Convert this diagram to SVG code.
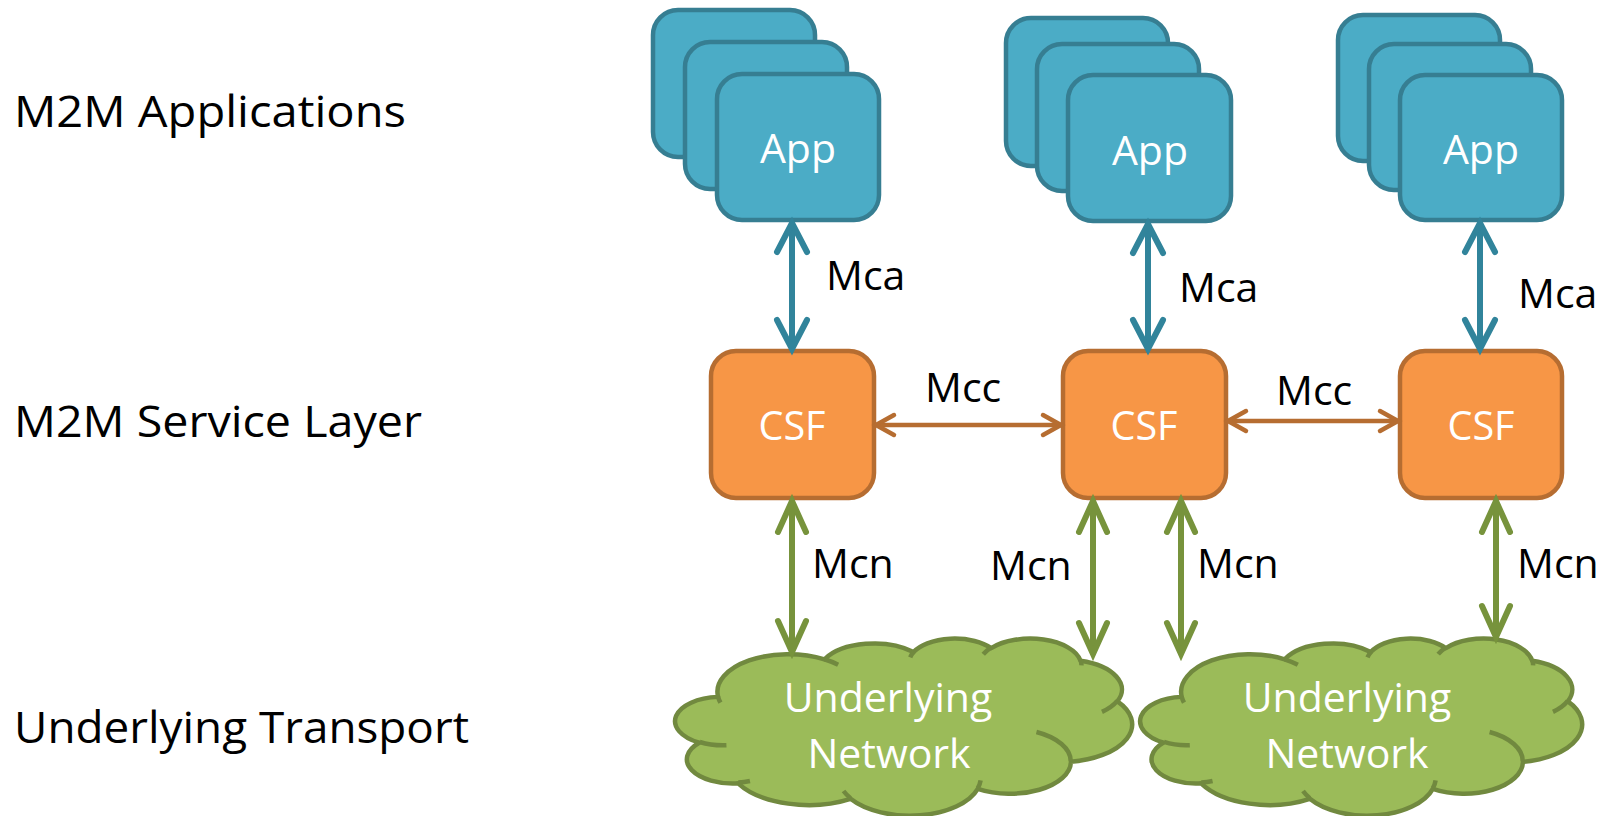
<svg xmlns="http://www.w3.org/2000/svg" width="1603" height="816" viewBox="0 0 1603 816">
<style>
  .lbl { font-family: "Open Sans", "Liberation Sans", sans-serif; font-size: 41px; fill: #000000; }
  .big { font-family: "Open Sans", "Liberation Sans", sans-serif; font-size: 43px; fill: #000000; }
  .wt { font-family: "Open Sans", "Liberation Sans", sans-serif; font-size: 41px; fill: #FFFFFF; text-anchor: middle; }
  .app { fill: #4BACC6; stroke: #367E92; stroke-width: 4.5; }
  .csf { fill: #F79646; stroke: #B66D31; stroke-width: 4.5; }
  .cloud { fill: #9BBB59; stroke: #71893F; stroke-width: 4.5; vector-effect: non-scaling-stroke; stroke-linejoin: round; }
  .hint { fill: none; stroke: #71893F; stroke-width: 4.5; vector-effect: non-scaling-stroke; }
  .mca { stroke: #31849B; stroke-width: 6; fill: none; marker-start: url(#hMca); marker-end: url(#hMca); }
  .mcc { stroke: #B66D31; stroke-width: 4.5; fill: none; marker-start: url(#hMcc); marker-end: url(#hMcc); }
  .mcn { stroke: #77933C; stroke-width: 6; fill: none; marker-start: url(#hMcn); marker-end: url(#hMcn); }
</style>
<defs>
  <marker id="hMca" markerUnits="userSpaceOnUse" orient="auto-start-reverse" refX="0" refY="0" markerWidth="40" markerHeight="40" overflow="visible">
    <path d="M-29,-15 L0,0 L-29,15" fill="none" stroke="#31849B" stroke-width="6" stroke-linecap="round" stroke-linejoin="miter"/>
  </marker>
  <marker id="hMcc" markerUnits="userSpaceOnUse" orient="auto-start-reverse" refX="0" refY="0" markerWidth="40" markerHeight="40" overflow="visible">
    <path d="M-18,-10 L0,0 L-18,10" fill="none" stroke="#B66D31" stroke-width="4.5" stroke-linecap="round" stroke-linejoin="miter"/>
  </marker>
  <marker id="hMcn" markerUnits="userSpaceOnUse" orient="auto-start-reverse" refX="0" refY="0" markerWidth="40" markerHeight="40" overflow="visible">
    <path d="M-31,-14 L0,0 L-31,14" fill="none" stroke="#77933C" stroke-width="6" stroke-linecap="round" stroke-linejoin="miter"/>
  </marker>
</defs>
<rect width="1603" height="816" fill="#FFFFFF"/>

<g id="layer-labels">
  <text class="big" x="14" y="127" textLength="392" lengthAdjust="spacingAndGlyphs">M2M Applications</text>
  <text class="big" x="14" y="437" textLength="408" lengthAdjust="spacingAndGlyphs">M2M Service Layer</text>
  <text class="big" x="14" y="743" textLength="455" lengthAdjust="spacingAndGlyphs">Underlying Transport</text>
</g>

<g id="app1">
  <rect class="app" x="653" y="10" width="162" height="147" rx="25"/>
  <rect class="app" x="685" y="42" width="162" height="147" rx="25"/>
  <rect class="app" x="717" y="74" width="162" height="146" rx="25"/>
  <text class="wt" x="798" y="163">App</text>
</g>
<g id="app2">
  <rect class="app" x="1006" y="18" width="162" height="148" rx="25"/>
  <rect class="app" x="1037" y="44" width="162" height="147" rx="25"/>
  <rect class="app" x="1068" y="75" width="163" height="146" rx="25"/>
  <text class="wt" x="1150" y="165">App</text>
</g>
<g id="app3">
  <rect class="app" x="1338" y="15" width="162" height="146" rx="25"/>
  <rect class="app" x="1369" y="44" width="162" height="146" rx="25"/>
  <rect class="app" x="1400" y="75" width="162" height="145" rx="25"/>
  <text class="wt" x="1481" y="164">App</text>
</g>

<g id="csf1">
  <rect class="csf" x="711" y="351" width="163" height="147" rx="25"/>
  <text class="wt" x="792" y="440" textLength="67" lengthAdjust="spacingAndGlyphs">CSF</text>
</g>
<g id="csf2">
  <rect class="csf" x="1063" y="351" width="163" height="147" rx="25"/>
  <text class="wt" x="1144" y="440" textLength="67" lengthAdjust="spacingAndGlyphs">CSF</text>
</g>
<g id="csf3">
  <rect class="csf" x="1400" y="351" width="162" height="147" rx="25"/>
  <text class="wt" x="1481" y="440" textLength="67" lengthAdjust="spacingAndGlyphs">CSF</text>
</g>

<g id="network1">
  <g transform="translate(677,638) scale(0.010532,0.004097)">
    <path class="cloud" d="M3900,14370 A6753,9190 0 0 1 14005,5202 A5333,7267 0 0 1 22456,3432 A4365,5945 0 0 1 29832,2478 A4857,6595 0 0 1 38317,5574 A5333,7273 0 0 1 41817,15458 A6775,9220 0 0 1 37403,30201 A5785,7867 0 0 1 28555,36812 A6752,9215 0 0 1 16480,39263 A7720,10543 0 0 1 5804,35469 A4360,5918 0 0 1 2112,25548 A4345,5945 0 0 1 3900,14370 Z"/>
    <path class="hint" d="M4693,26177 A4345,5945 0 0 1 2160,25380 M6928,34899 A4360,5918 0 0 1 5820,35281 M16478,39090 A6752,9215 0 0 1 15810,37349 M28827,34751 A6752,9215 0 0 1 28560,36660 M34129,22954 A5785,7867 0 0 1 37381,30090 M41798,15354 A5333,7273 0 0 1 40350,18030 M38324,5426 A4857,6595 0 0 1 38401,6690 M29078,3952 A4857,6595 0 0 1 29820,2339 M22141,4720 A4365,5945 0 0 1 22500,3331 M14000,5192 A6753,9190 0 0 1 15300,6540 M4127,15789 A6753,9190 0 0 1 3900,14370"/>
  </g>
  <text class="wt" x="888" y="712">Underlying</text>
  <text class="wt" x="889" y="768">Network</text>
</g>
<g id="network2">
  <g transform="translate(1142,638) scale(0.010185,0.004097)">
    <path class="cloud" d="M3900,14370 A6753,9190 0 0 1 14005,5202 A5333,7267 0 0 1 22456,3432 A4365,5945 0 0 1 29832,2478 A4857,6595 0 0 1 38317,5574 A5333,7273 0 0 1 41817,15458 A6775,9220 0 0 1 37403,30201 A5785,7867 0 0 1 28555,36812 A6752,9215 0 0 1 16480,39263 A7720,10543 0 0 1 5804,35469 A4360,5918 0 0 1 2112,25548 A4345,5945 0 0 1 3900,14370 Z"/>
    <path class="hint" d="M4693,26177 A4345,5945 0 0 1 2160,25380 M6928,34899 A4360,5918 0 0 1 5820,35281 M16478,39090 A6752,9215 0 0 1 15810,37349 M28827,34751 A6752,9215 0 0 1 28560,36660 M34129,22954 A5785,7867 0 0 1 37381,30090 M41798,15354 A5333,7273 0 0 1 40350,18030 M38324,5426 A4857,6595 0 0 1 38401,6690 M29078,3952 A4857,6595 0 0 1 29820,2339 M22141,4720 A4365,5945 0 0 1 22500,3331 M14000,5192 A6753,9190 0 0 1 15300,6540 M4127,15789 A6753,9190 0 0 1 3900,14370"/>
  </g>
  <text class="wt" x="1347" y="712">Underlying</text>
  <text class="wt" x="1347" y="768">Network</text>
</g>

<g id="connectors">
  <line class="mca" x1="792" y1="223" x2="792" y2="349"/>
  <line class="mca" x1="1148" y1="224" x2="1148" y2="349"/>
  <line class="mca" x1="1480" y1="223" x2="1480" y2="349"/>
  <line class="mcc" x1="876" y1="425" x2="1061" y2="425"/>
  <line class="mcc" x1="1228" y1="421" x2="1398" y2="421"/>
  <line class="mcn" x1="792" y1="501" x2="792" y2="652"/>
  <line class="mcn" x1="1093" y1="501" x2="1093" y2="654"/>
  <line class="mcn" x1="1181" y1="501" x2="1181" y2="654"/>
  <line class="mcn" x1="1496" y1="501" x2="1496" y2="637"/>
  <text class="lbl" x="826" y="290">Mca</text>
  <text class="lbl" x="1179" y="302">Mca</text>
  <text class="lbl" x="1518" y="308">Mca</text>
  <text class="lbl" x="925" y="402">Mcc</text>
  <text class="lbl" x="1276" y="405">Mcc</text>
  <text class="lbl" x="812" y="578">Mcn</text>
  <text class="lbl" x="990" y="580">Mcn</text>
  <text class="lbl" x="1197" y="578">Mcn</text>
  <text class="lbl" x="1517" y="578">Mcn</text>
</g>
</svg>
